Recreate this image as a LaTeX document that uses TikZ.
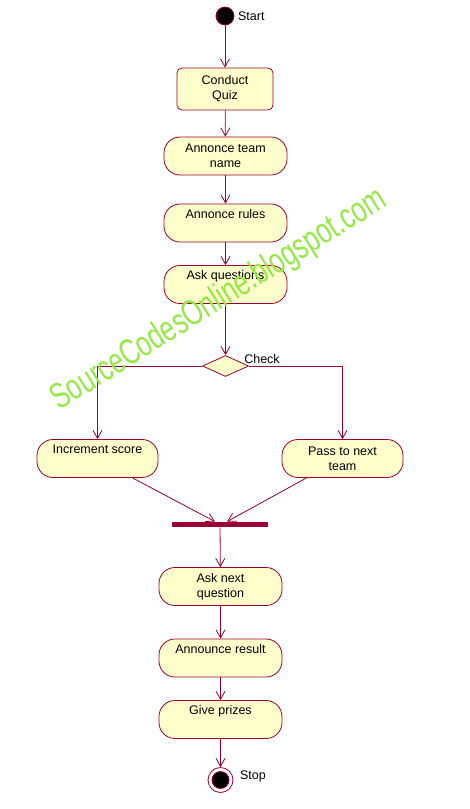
\documentclass[tikz,border=0pt]{standalone}
\usepackage{fontspec}
\setmainfont{Liberation Sans}
\usetikzlibrary{shapes.geometric,arrows.meta}
\definecolor{umlred}{RGB}{153,0,51}
\definecolor{umlfill}{RGB}{255,255,204}
\definecolor{markgreen}{RGB}{150,232,70}
\begin{document}
\begin{tikzpicture}[x=1pt, y=-1pt, line width=.8pt, draw=umlred,
	font=\fontsize{12.5}{15}\selectfont,
	act/.style={draw=umlred, fill=umlfill, rounded corners=16pt, minimum width=123pt, minimum height=38pt, align=center, inner sep=2pt},
	toptext/.style={text depth=19pt},
	flow/.style={draw=umlred, -{Straight Barb[length=8pt,width=9pt]}}]
	\useasboundingbox (0,0) rectangle (469,809);
	\node[circle, fill=black, draw=umlred, minimum size=18pt, inner sep=0pt, label={right:Start}] (start) at (225,16) {};
	\node[draw=umlred, fill=umlfill, rounded corners=5pt, minimum width=96pt, minimum height=42pt, align=center] (conduct) at (225,89) {Conduct\\Quiz};
	\node[act]           (team)   at (225.5,156)   {Annonce team\\name};
	\node[act, toptext]  (rules)  at (225.5,223)   {Annonce rules};
	\node[act, toptext]  (ask)    at (225.5,284.5) {Ask questions};
	\node[diamond, draw=umlred, fill=umlfill, minimum width=46pt, minimum height=21pt, inner sep=0pt,
		label={[anchor=west, inner sep=0pt, xshift=-5pt, yshift=7pt]east:Check}] (check) at (225.5,366) {};
	\node[act, toptext, minimum width=121pt] (incr) at (97.5,458.5)  {Increment score};
	\node[act, minimum width=121pt]          (pass) at (342.5,458.5) {Pass to next\\team};
	\node[fill=umlred, minimum width=96pt, minimum height=5pt, inner sep=0pt] (bar) at (220,524.5) {};
	\node[act]           (next)   at (220.5,586.5) {Ask next\\question};
	\node[act, toptext]  (result) at (220.5,658)   {Announce result};
	\node[act, toptext]  (prizes) at (220.5,719.5) {Give prizes};
	\node[circle, draw=umlred, fill=white, minimum size=25pt, inner sep=0pt, label={[yshift=4pt, label distance=3pt]right:Stop}] (stop) at (220.5,780) {};
	\node[circle, draw=umlred, fill=black, minimum size=17pt, inner sep=0pt] (stopdot) at (stop) {};
	\draw[flow] (start) -- (conduct);
	\draw[flow] (conduct) -- (team);
	\draw[flow] (team) -- (rules);
	\draw[flow] (rules) -- (ask);
	\draw[flow] (ask) -- (check);
	\draw[flow] (check.west) -| (incr.north);
	\draw[flow] (check.east) -| (pass.north);
	\draw[flow] ([xshift=35pt]incr.south) -- ([xshift=-5pt]bar.north);
	\draw[flow] ([xshift=-36pt]pass.south) -- ([xshift=7pt]bar.north);
	\draw[flow] (bar) -- (next);
	\draw[flow] (next) -- (result);
	\draw[flow] (result) -- (prizes);
	\draw[flow] (prizes) -- (stop);
	% watermark
	\node[rotate=32, anchor=base, text=markgreen, font=\fontsize{36}{36}\selectfont] (mark) at (224,308) {\scalebox{.71}[1]{SourceCodesOnline.blogspot.com}};
\end{tikzpicture}
\end{document}
